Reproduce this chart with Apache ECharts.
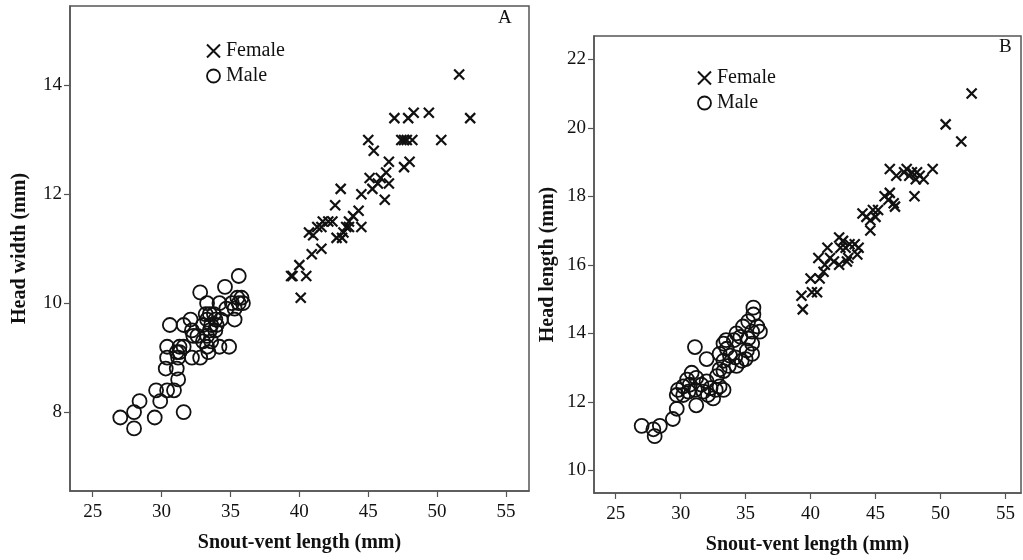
<!DOCTYPE html>
<html>
<head>
<meta charset="utf-8">
<script src="https://cdn.jsdelivr.net/npm/echarts@6/dist/echarts.min.js"></script>
<style>
  html, body { margin: 0; padding: 0; background: #fff; }
  #chart { width: 1023px; height: 560px; }
</style>
</head>
<body>
<div id="chart"></div>
<script>
// Snout-vent length (mm) vs head width (A) and head length (B), by sex
const xTicks = [25, 30, 35, 40, 45, 50, 55];
const yTicksA = [8, 10, 12, 14];
const yTicksB = [10, 12, 14, 16, 18, 20, 22];

// Panel A: head width
const femaleA = [
  [39.4,10.5],[39.5,10.5],[40.0,10.7],[40.5,10.5],[40.1,10.1],[40.9,10.9],[41.6,11.0],
  [40.7,11.3],[41.0,11.25],[41.3,11.4],[41.6,11.4],[41.7,11.5],[42.1,11.5],[42.4,11.5],
  [42.7,11.2],[43.1,11.2],[43.2,11.3],[43.4,11.4],[43.6,11.5],[43.6,11.4],[43.9,11.6],
  [44.3,11.7],[44.5,11.4],[42.6,11.8],[43.0,12.1],[44.5,12.0],[45.1,12.3],[45.3,12.1],
  [45.7,12.2],[45.9,12.3],[46.2,11.9],[46.3,12.4],[46.5,12.2],[46.5,12.6],[45.4,12.8],
  [45.0,13.0],[47.4,13.0],[47.6,13.0],[47.8,13.0],[48.2,13.0],[47.6,12.5],[48.0,12.6],
  [46.9,13.4],[47.9,13.4],[48.3,13.5],[49.4,13.5],[50.3,13.0],[51.6,14.2],[52.4,13.4]
];
const maleA = [
  [27.0,7.9],[28.0,7.7],[28.0,8.0],[28.4,8.2],[29.5,7.9],[31.6,8.0],[29.9,8.2],[29.6,8.4],
  [30.4,8.4],[30.9,8.4],[31.2,8.6],[30.3,8.8],[31.1,8.8],[30.4,9.0],[31.2,9.0],[31.3,9.1],
  [32.2,9.0],[32.8,9.0],[30.4,9.2],[31.3,9.2],[31.6,9.2],[31.1,9.1],[30.6,9.6],[31.6,9.6],
  [32.1,9.7],[32.2,9.5],[32.6,9.4],[32.3,9.4],[32.8,10.2],[33.3,10.0],[34.2,10.0],[34.6,10.3],
  [35.6,10.5],[35.1,10.0],[35.5,10.1],[35.8,10.1],[35.6,10.0],[35.9,10.0],[35.3,9.9],[34.7,9.9],
  [35.3,9.7],[33.2,9.8],[33.5,9.8],[33.9,9.7],[33.3,9.7],[33.6,9.6],[34.0,9.6],[33.0,9.6],
  [33.5,9.5],[33.9,9.5],[33.3,9.4],[33.6,9.3],[33.3,9.2],[33.4,9.1],[34.2,9.2],[34.9,9.2],
  [33.8,9.8],[34.3,9.7],[33.0,9.3]
];

// Panel B: head length
const femaleB = [
  [39.4,14.7],[39.3,15.1],[40.1,15.2],[40.5,15.2],[40.0,15.6],[40.7,15.6],[41.0,15.8],
  [40.6,16.2],[41.5,16.2],[41.8,16.1],[42.8,16.1],[42.2,16.0],[41.1,16.0],[42.9,16.2],
  [41.3,16.5],[43.6,16.3],[42.2,16.8],[42.5,16.7],[43.0,16.6],[43.4,16.6],[43.7,16.5],
  [42.7,16.5],[42.3,16.5],[44.6,17.0],[44.0,17.5],[44.3,17.4],[44.8,17.6],[45.2,17.6],
  [45.0,17.4],[44.6,17.3],[45.7,18.0],[46.1,18.1],[46.4,17.8],[46.0,17.9],[46.5,17.7],
  [48.0,18.0],[46.1,18.8],[46.6,18.6],[47.4,18.8],[47.8,18.7],[48.2,18.7],[48.4,18.6],
  [48.1,18.5],[48.7,18.5],[47.6,18.6],[47.2,18.7],[49.4,18.8],[50.4,20.1],[51.6,19.6],
  [52.4,21.0]
];
const maleB = [
  [27.0,11.3],[28.0,11.0],[27.9,11.2],[28.4,11.3],[29.4,11.5],[29.7,11.8],[29.8,12.35],
  [29.7,12.2],[30.2,12.2],[30.6,12.3],[31.2,11.9],[32.1,12.2],[32.5,12.1],[30.85,12.85],
  [31.2,12.7],[30.5,12.65],[30.7,12.5],[31.6,12.5],[31.1,12.35],[30.2,12.45],[32.0,12.6],
  [32.3,12.4],[31.75,12.3],[33.3,12.9],[32.8,12.75],[33.0,12.45],[33.3,12.35],[32.7,12.35],
  [31.1,13.6],[32.0,13.25],[33.3,13.7],[33.55,13.55],[33.0,13.4],[33.8,13.35],[33.3,13.2],
  [34.2,13.3],[33.7,13.05],[33.0,12.95],[34.7,13.2],[34.3,13.05],[35.0,13.25],[35.1,13.5],
  [35.5,13.4],[34.3,14.0],[34.6,13.9],[34.1,13.8],[35.2,13.85],[35.5,13.7],[35.2,14.35],
  [35.9,14.2],[34.8,14.2],[35.5,14.05],[36.1,14.05],[35.6,14.55],[35.6,14.75],[33.5,13.8]
];

const SERIF = '"Liberation Serif", "Times New Roman", serif';
const INK = '#111';
const AXIS_GREY = '#555';
const CROSS = 'path://M0,0L10,10M10,0L0,10';

function xAxisFor(gridIndex, min, max) {
  return {
    type: 'value', gridIndex, min, max,
    name: 'Snout-vent length (mm)', nameLocation: 'middle', nameGap: 42,
    nameTextStyle: { fontFamily: SERIF, fontSize: 20, fontWeight: 'bold', color: INK },
    splitLine: { show: false },
    axisLine: { show: true, lineStyle: { color: AXIS_GREY, width: 1.5 } },
    axisTick: { show: true, length: 6, customValues: xTicks, lineStyle: { color: AXIS_GREY, width: 1.2 } },
    axisLabel: { customValues: xTicks, margin: 12, fontFamily: SERIF, fontSize: 19, color: INK }
  };
}
function yAxisFor(gridIndex, min, max, ticks, title, gap) {
  return {
    type: 'value', gridIndex, min, max,
    name: title, nameLocation: 'middle', nameGap: gap,
    nameTextStyle: { fontFamily: SERIF, fontSize: 20, fontWeight: 'bold', color: INK },
    splitLine: { show: false },
    axisLine: { show: true, lineStyle: { color: AXIS_GREY, width: 1.5 } },
    axisTick: { show: true, length: 6, customValues: ticks, lineStyle: { color: AXIS_GREY, width: 1.2 } },
    axisLabel: { customValues: ticks, margin: 8, fontFamily: SERIF, fontSize: 19, color: INK }
  };
}
function crossSeries(name, data, xi) {
  return {
    name, type: 'scatter', xAxisIndex: xi, yAxisIndex: xi, data,
    symbol: CROSS, symbolSize: 10,
    itemStyle: { color: 'transparent', borderColor: INK, borderWidth: 2.2, opacity: 1 },
    emphasis: { disabled: true }, animation: false
  };
}
function circleSeries(name, data, xi) {
  return {
    name, type: 'scatter', xAxisIndex: xi, yAxisIndex: xi, data,
    symbol: 'circle', symbolSize: 14,
    itemStyle: { color: 'transparent', borderColor: INK, borderWidth: 1.8, opacity: 1 },
    emphasis: { disabled: true }, animation: false
  };
}
function legendAt(left, top) {
  return {
    orient: 'vertical', left, top, padding: 0, itemGap: 5, itemWidth: 13, itemHeight: 13,
    selectedMode: false,
    textStyle: { fontFamily: SERIF, fontSize: 20, color: INK, padding: [0, 0, 0, 1] },
    data: [
      { name: 'Female', icon: 'path://M1.5,1.5L8.5,8.5M8.5,1.5L1.5,8.5', itemStyle: { color: 'transparent', borderColor: INK, borderWidth: 2 } },
      { name: 'Male', icon: 'circle', itemStyle: { color: 'transparent', borderColor: INK, borderWidth: 1.8 } }
    ]
  };
}

const chart = echarts.init(document.getElementById('chart'), null, { renderer: 'canvas' });
chart.setOption({
  backgroundColor: '#fff',
  animation: false,
  grid: [
    { left: 70, top: 6, width: 459, height: 485, show: true, borderColor: AXIS_GREY, borderWidth: 1.5, backgroundColor: 'transparent' },
    { left: 594, top: 36, width: 427, height: 458, show: true, borderColor: AXIS_GREY, borderWidth: 1.5, backgroundColor: 'transparent' }
  ],
  xAxis: [xAxisFor(0, 23.35, 56.67), xAxisFor(1, 23.33, 56.2)],
  yAxis: [
    yAxisFor(0, 6.55, 15.46, yTicksA, 'Head width (mm)', 40),
    yAxisFor(1, 9.34, 22.68, yTicksB, 'Head length (mm)', 36)
  ],
  legend: [legendAt(206, 41), legendAt(697, 68)],
  series: [
    crossSeries('Female', femaleA, 0),
    circleSeries('Male', maleA, 0),
    crossSeries('Female', femaleB, 1),
    circleSeries('Male', maleB, 1)
  ],
  graphic: [
    { type: 'text', left: 498, top: 9, style: { text: 'A', font: '19px ' + SERIF, fill: INK } },
    { type: 'text', left: 999, top: 38, style: { text: 'B', font: '19px ' + SERIF, fill: INK } }
  ]
});
</script>
</body>
</html>
